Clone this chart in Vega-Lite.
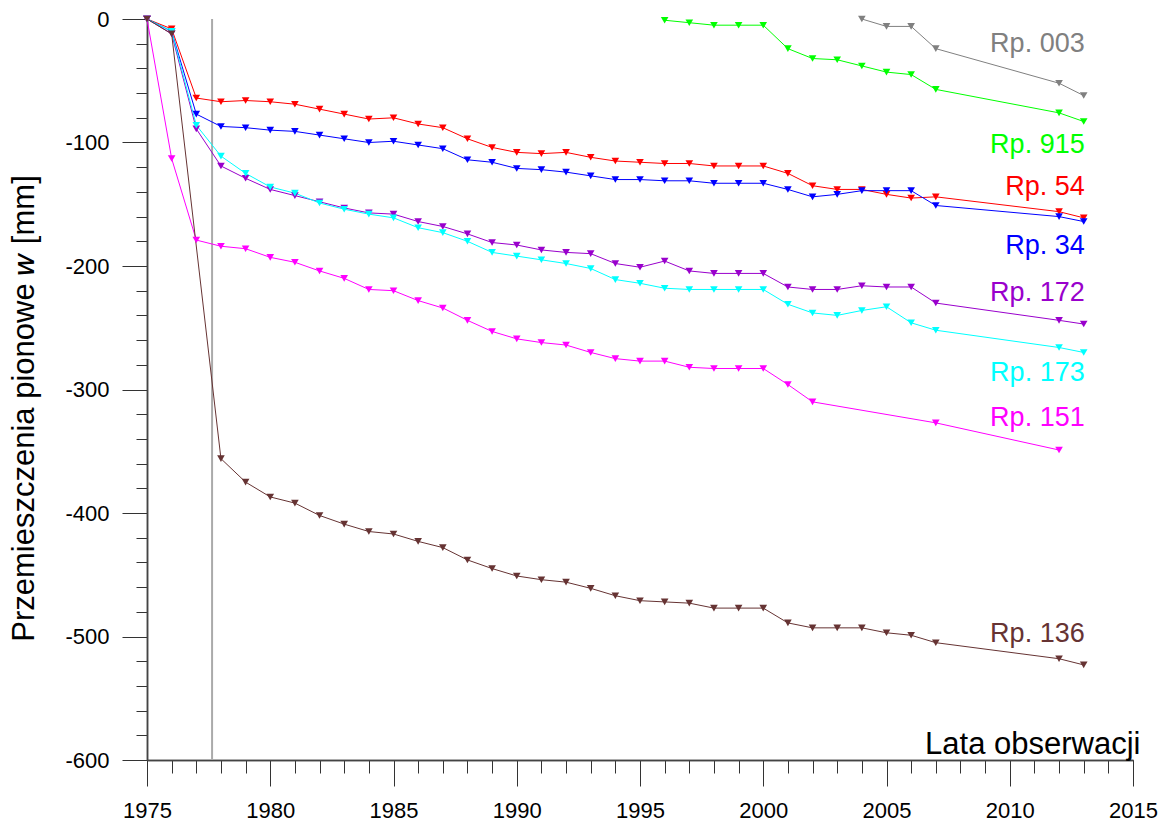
{
  "$schema": "https://vega.github.io/schema/vega-lite/v6.json",
  "autosize": "none",
  "width": 986,
  "height": 741,
  "padding": {"left": 147, "top": 19, "right": 37, "bottom": 63},
  "background": "white",
  "config": {
    "view": {"stroke": null},
    "font": "Liberation Sans",
    "axis": {"labelFont": "Liberation Sans", "titleFont": "Liberation Sans", "labelColor": "black", "titleColor": "black", "grid": false, "domainColor": "#444", "tickColor": "#333", "tickWidth": 1, "domainWidth": 1.5}
  },
  "datasets": {
    "series": [
      {"s":"Rp. 54","t":1975,"w":0},{"s":"Rp. 54","t":1976,"w":-8},{"s":"Rp. 54","t":1977,"w":-64},{"s":"Rp. 54","t":1978,"w":-67},{"s":"Rp. 54","t":1979,"w":-66},{"s":"Rp. 54","t":1980,"w":-67},{"s":"Rp. 54","t":1981,"w":-69},{"s":"Rp. 54","t":1982,"w":-73},{"s":"Rp. 54","t":1983,"w":-77},{"s":"Rp. 54","t":1984,"w":-81},{"s":"Rp. 54","t":1985,"w":-80},{"s":"Rp. 54","t":1986,"w":-85},{"s":"Rp. 54","t":1987,"w":-88},{"s":"Rp. 54","t":1988,"w":-97},{"s":"Rp. 54","t":1989,"w":-104},{"s":"Rp. 54","t":1990,"w":-108},{"s":"Rp. 54","t":1991,"w":-109},{"s":"Rp. 54","t":1992,"w":-108},{"s":"Rp. 54","t":1993,"w":-112},{"s":"Rp. 54","t":1994,"w":-115},{"s":"Rp. 54","t":1995,"w":-116},{"s":"Rp. 54","t":1996,"w":-117},{"s":"Rp. 54","t":1997,"w":-117},{"s":"Rp. 54","t":1998,"w":-119},{"s":"Rp. 54","t":1999,"w":-119},{"s":"Rp. 54","t":2000,"w":-119},{"s":"Rp. 54","t":2001,"w":-125},{"s":"Rp. 54","t":2002,"w":-135},{"s":"Rp. 54","t":2003,"w":-138},{"s":"Rp. 54","t":2004,"w":-138},{"s":"Rp. 54","t":2005,"w":-142},{"s":"Rp. 54","t":2006,"w":-145},{"s":"Rp. 54","t":2007,"w":-144},{"s":"Rp. 54","t":2012,"w":-156},{"s":"Rp. 54","t":2013,"w":-161},
      {"s":"Rp. 34","t":1975,"w":0},{"s":"Rp. 34","t":1976,"w":-10},{"s":"Rp. 34","t":1977,"w":-77},{"s":"Rp. 34","t":1978,"w":-87},{"s":"Rp. 34","t":1979,"w":-88},{"s":"Rp. 34","t":1980,"w":-90},{"s":"Rp. 34","t":1981,"w":-91},{"s":"Rp. 34","t":1982,"w":-94},{"s":"Rp. 34","t":1983,"w":-97},{"s":"Rp. 34","t":1984,"w":-100},{"s":"Rp. 34","t":1985,"w":-99},{"s":"Rp. 34","t":1986,"w":-102},{"s":"Rp. 34","t":1987,"w":-105},{"s":"Rp. 34","t":1988,"w":-114},{"s":"Rp. 34","t":1989,"w":-116},{"s":"Rp. 34","t":1990,"w":-121},{"s":"Rp. 34","t":1991,"w":-122},{"s":"Rp. 34","t":1992,"w":-124},{"s":"Rp. 34","t":1993,"w":-127},{"s":"Rp. 34","t":1994,"w":-130},{"s":"Rp. 34","t":1995,"w":-130},{"s":"Rp. 34","t":1996,"w":-131},{"s":"Rp. 34","t":1997,"w":-131},{"s":"Rp. 34","t":1998,"w":-133},{"s":"Rp. 34","t":1999,"w":-133},{"s":"Rp. 34","t":2000,"w":-133},{"s":"Rp. 34","t":2001,"w":-138},{"s":"Rp. 34","t":2002,"w":-144},{"s":"Rp. 34","t":2003,"w":-142},{"s":"Rp. 34","t":2004,"w":-139},{"s":"Rp. 34","t":2005,"w":-139},{"s":"Rp. 34","t":2006,"w":-139},{"s":"Rp. 34","t":2007,"w":-151},{"s":"Rp. 34","t":2012,"w":-160},{"s":"Rp. 34","t":2013,"w":-164},
      {"s":"Rp. 172","t":1975,"w":0},{"s":"Rp. 172","t":1976,"w":-12},{"s":"Rp. 172","t":1977,"w":-89},{"s":"Rp. 172","t":1978,"w":-119},{"s":"Rp. 172","t":1979,"w":-129},{"s":"Rp. 172","t":1980,"w":-138},{"s":"Rp. 172","t":1981,"w":-143},{"s":"Rp. 172","t":1982,"w":-148},{"s":"Rp. 172","t":1983,"w":-153},{"s":"Rp. 172","t":1984,"w":-157},{"s":"Rp. 172","t":1985,"w":-158},{"s":"Rp. 172","t":1986,"w":-164},{"s":"Rp. 172","t":1987,"w":-168},{"s":"Rp. 172","t":1988,"w":-174},{"s":"Rp. 172","t":1989,"w":-181},{"s":"Rp. 172","t":1990,"w":-183},{"s":"Rp. 172","t":1991,"w":-187},{"s":"Rp. 172","t":1992,"w":-189},{"s":"Rp. 172","t":1993,"w":-190},{"s":"Rp. 172","t":1994,"w":-198},{"s":"Rp. 172","t":1995,"w":-201},{"s":"Rp. 172","t":1996,"w":-196},{"s":"Rp. 172","t":1997,"w":-204},{"s":"Rp. 172","t":1998,"w":-206},{"s":"Rp. 172","t":1999,"w":-206},{"s":"Rp. 172","t":2000,"w":-206},{"s":"Rp. 172","t":2001,"w":-217},{"s":"Rp. 172","t":2002,"w":-219},{"s":"Rp. 172","t":2003,"w":-219},{"s":"Rp. 172","t":2004,"w":-216},{"s":"Rp. 172","t":2005,"w":-217},{"s":"Rp. 172","t":2006,"w":-217},{"s":"Rp. 172","t":2007,"w":-230},{"s":"Rp. 172","t":2012,"w":-244},{"s":"Rp. 172","t":2013,"w":-247},
      {"s":"Rp. 173","t":1975,"w":0},{"s":"Rp. 173","t":1976,"w":-10},{"s":"Rp. 173","t":1977,"w":-86},{"s":"Rp. 173","t":1978,"w":-111},{"s":"Rp. 173","t":1979,"w":-125},{"s":"Rp. 173","t":1980,"w":-136},{"s":"Rp. 173","t":1981,"w":-141},{"s":"Rp. 173","t":1982,"w":-149},{"s":"Rp. 173","t":1983,"w":-154},{"s":"Rp. 173","t":1984,"w":-158},{"s":"Rp. 173","t":1985,"w":-161},{"s":"Rp. 173","t":1986,"w":-169},{"s":"Rp. 173","t":1987,"w":-173},{"s":"Rp. 173","t":1988,"w":-180},{"s":"Rp. 173","t":1989,"w":-189},{"s":"Rp. 173","t":1990,"w":-192},{"s":"Rp. 173","t":1991,"w":-195},{"s":"Rp. 173","t":1992,"w":-198},{"s":"Rp. 173","t":1993,"w":-202},{"s":"Rp. 173","t":1994,"w":-211},{"s":"Rp. 173","t":1995,"w":-214},{"s":"Rp. 173","t":1996,"w":-218},{"s":"Rp. 173","t":1997,"w":-219},{"s":"Rp. 173","t":1998,"w":-219},{"s":"Rp. 173","t":1999,"w":-219},{"s":"Rp. 173","t":2000,"w":-219},{"s":"Rp. 173","t":2001,"w":-231},{"s":"Rp. 173","t":2002,"w":-238},{"s":"Rp. 173","t":2003,"w":-240},{"s":"Rp. 173","t":2004,"w":-236},{"s":"Rp. 173","t":2005,"w":-233},{"s":"Rp. 173","t":2006,"w":-246},{"s":"Rp. 173","t":2007,"w":-252},{"s":"Rp. 173","t":2012,"w":-266},{"s":"Rp. 173","t":2013,"w":-270},
      {"s":"Rp. 151","t":1975,"w":0},{"s":"Rp. 151","t":1976,"w":-113},{"s":"Rp. 151","t":1977,"w":-179},{"s":"Rp. 151","t":1978,"w":-184},{"s":"Rp. 151","t":1979,"w":-186},{"s":"Rp. 151","t":1980,"w":-193},{"s":"Rp. 151","t":1981,"w":-197},{"s":"Rp. 151","t":1982,"w":-204},{"s":"Rp. 151","t":1983,"w":-210},{"s":"Rp. 151","t":1984,"w":-219},{"s":"Rp. 151","t":1985,"w":-220},{"s":"Rp. 151","t":1986,"w":-228},{"s":"Rp. 151","t":1987,"w":-234},{"s":"Rp. 151","t":1988,"w":-244},{"s":"Rp. 151","t":1989,"w":-253},{"s":"Rp. 151","t":1990,"w":-259},{"s":"Rp. 151","t":1991,"w":-262},{"s":"Rp. 151","t":1992,"w":-264},{"s":"Rp. 151","t":1993,"w":-270},{"s":"Rp. 151","t":1994,"w":-275},{"s":"Rp. 151","t":1995,"w":-277},{"s":"Rp. 151","t":1996,"w":-277},{"s":"Rp. 151","t":1997,"w":-282},{"s":"Rp. 151","t":1998,"w":-283},{"s":"Rp. 151","t":1999,"w":-283},{"s":"Rp. 151","t":2000,"w":-283},{"s":"Rp. 151","t":2001,"w":-296},{"s":"Rp. 151","t":2002,"w":-310},{"s":"Rp. 151","t":2007,"w":-327},{"s":"Rp. 151","t":2012,"w":-349},
      {"s":"Rp. 136","t":1975,"w":0},{"s":"Rp. 136","t":1976,"w":-12},{"s":"Rp. 136","t":1978,"w":-356},{"s":"Rp. 136","t":1979,"w":-375},{"s":"Rp. 136","t":1980,"w":-387},{"s":"Rp. 136","t":1981,"w":-392},{"s":"Rp. 136","t":1982,"w":-402},{"s":"Rp. 136","t":1983,"w":-409},{"s":"Rp. 136","t":1984,"w":-415},{"s":"Rp. 136","t":1985,"w":-417},{"s":"Rp. 136","t":1986,"w":-423},{"s":"Rp. 136","t":1987,"w":-428},{"s":"Rp. 136","t":1988,"w":-438},{"s":"Rp. 136","t":1989,"w":-445},{"s":"Rp. 136","t":1990,"w":-451},{"s":"Rp. 136","t":1991,"w":-454},{"s":"Rp. 136","t":1992,"w":-456},{"s":"Rp. 136","t":1993,"w":-461},{"s":"Rp. 136","t":1994,"w":-467},{"s":"Rp. 136","t":1995,"w":-471},{"s":"Rp. 136","t":1996,"w":-472},{"s":"Rp. 136","t":1997,"w":-473},{"s":"Rp. 136","t":1998,"w":-477},{"s":"Rp. 136","t":1999,"w":-477},{"s":"Rp. 136","t":2000,"w":-477},{"s":"Rp. 136","t":2001,"w":-489},{"s":"Rp. 136","t":2002,"w":-493},{"s":"Rp. 136","t":2003,"w":-493},{"s":"Rp. 136","t":2004,"w":-493},{"s":"Rp. 136","t":2005,"w":-497},{"s":"Rp. 136","t":2006,"w":-499},{"s":"Rp. 136","t":2007,"w":-505},{"s":"Rp. 136","t":2012,"w":-518},{"s":"Rp. 136","t":2013,"w":-523},
      {"s":"Rp. 915","t":1996,"w":-1},{"s":"Rp. 915","t":1997,"w":-3},{"s":"Rp. 915","t":1998,"w":-5},{"s":"Rp. 915","t":1999,"w":-5},{"s":"Rp. 915","t":2000,"w":-5},{"s":"Rp. 915","t":2001,"w":-24},{"s":"Rp. 915","t":2002,"w":-32},{"s":"Rp. 915","t":2003,"w":-33},{"s":"Rp. 915","t":2004,"w":-38},{"s":"Rp. 915","t":2005,"w":-43},{"s":"Rp. 915","t":2006,"w":-45},{"s":"Rp. 915","t":2007,"w":-57},{"s":"Rp. 915","t":2012,"w":-76},{"s":"Rp. 915","t":2013,"w":-83},
      {"s":"Rp. 003","t":2004,"w":0},{"s":"Rp. 003","t":2005,"w":-6},{"s":"Rp. 003","t":2006,"w":-6},{"s":"Rp. 003","t":2007,"w":-24},{"s":"Rp. 003","t":2012,"w":-52},{"s":"Rp. 003","t":2013,"w":-62}
    ],
    "labels": [
      {"s":"Rp. 003","t":2013,"w":-20},
      {"s":"Rp. 915","t":2013,"w":-102},
      {"s":"Rp. 54","t":2013,"w":-136},
      {"s":"Rp. 34","t":2013,"w":-184},
      {"s":"Rp. 172","t":2013,"w":-222},
      {"s":"Rp. 173","t":2013,"w":-287},
      {"s":"Rp. 151","t":2013,"w":-323},
      {"s":"Rp. 136","t":2013,"w":-498}
    ],
    "marker": [{"t": 1977.64}]
  },
  "layer": [
    {
      "data": {"name": "marker"},
      "mark": {"type": "rule", "color": "#aaaaaa", "strokeWidth": 2},
      "encoding": {
        "x": {"field": "t", "type": "quantitative", "axis": null, "scale": {"domain": [1975, 2015], "nice": false, "zero": false}}
      }
    },
    {
      "data": {"name": "series"},
      "mark": {"type": "line", "strokeWidth": 1},
      "encoding": {
        "x": {"field": "t", "type": "quantitative", "scale": {"domain": [1975, 2015], "nice": false, "zero": false},
              "axis": {"orient": "bottom", "values": [1975,1976,1977,1978,1979,1980,1981,1982,1983,1984,1985,1986,1987,1988,1989,1990,1991,1992,1993,1994,1995,1996,1997,1998,1999,2000,2001,2002,2003,2004,2005,2006,2007,2008,2009,2010,2011,2012,2013,2014,2015], "labels": false, "title": null, "tickSize": 13, "domain": true}},
        "y": {"field": "w", "type": "quantitative", "scale": {"domain": [-600, 0], "nice": false, "zero": false},
              "axis": {"orient": "left", "values": [-600,-580,-560,-540,-520,-500,-480,-460,-440,-420,-400,-380,-360,-340,-320,-300,-280,-260,-240,-220,-200,-180,-160,-140,-120,-100,-80,-60,-40,-20,0], "labels": false, "title": null, "tickSize": 11, "domain": true}},
        "color": {"field": "s", "type": "nominal", "legend": null,
                  "scale": {"domain": ["Rp. 003","Rp. 915","Rp. 54","Rp. 34","Rp. 172","Rp. 173","Rp. 151","Rp. 136"],
                            "range": ["#808080","#00ff00","#ff0000","#0000ff","#9900cc","#00ffff","#ff00ff","#663333"]}}
      }
    },
    {
      "data": {"name": "series"},
      "mark": {"type": "point", "shape": "triangle-down", "filled": true, "size": 58, "opacity": 1},
      "encoding": {
        "x": {"field": "t", "type": "quantitative",
              "axis": {"orient": "bottom", "values": [1975,1980,1985,1990,1995,2000,2005,2010,2015], "format": "d", "labelFlush": false, "labelOverlap": false, "labelFontSize": 22, "labelPadding": 14, "tickSize": 26,
                       "title": "Lata obserwacji", "titleFontSize": 31, "titleFontWeight": "normal", "titleAlign": "right", "titleBaseline": "alphabetic", "titleAnchor": null, "titleX": 993, "titleY": -7}},
        "y": {"field": "w", "type": "quantitative",
              "axis": {"orient": "left", "values": [-600,-500,-400,-300,-200,-100,0], "labelExpr": "toString(datum.value)", "labelFontSize": 22, "labelPadding": 13, "tickSize": 25, "labelFlush": false, "labelOverlap": false,
                       "title": "Przemieszczenia pionowe 𝑤 [mm]", "titleFontSize": 31, "titleFontWeight": "normal", "titleAngle": -90, "titleAlign": "center", "titleBaseline": "alphabetic", "titleX": -114, "titleY": 389}},
        "color": {"field": "s", "type": "nominal", "legend": null}
      }
    },
    {
      "data": {"name": "labels"},
      "mark": {"type": "text", "align": "right", "baseline": "middle", "fontSize": 27, "font": "Liberation Sans", "dx": 1},
      "encoding": {
        "x": {"field": "t", "type": "quantitative", "axis": null},
        "y": {"field": "w", "type": "quantitative", "axis": null},
        "text": {"field": "s"},
        "color": {"field": "s", "type": "nominal", "legend": null}
      }
    }
  ],
  "resolve": {"axis": {"x": "independent", "y": "independent"}}
}
